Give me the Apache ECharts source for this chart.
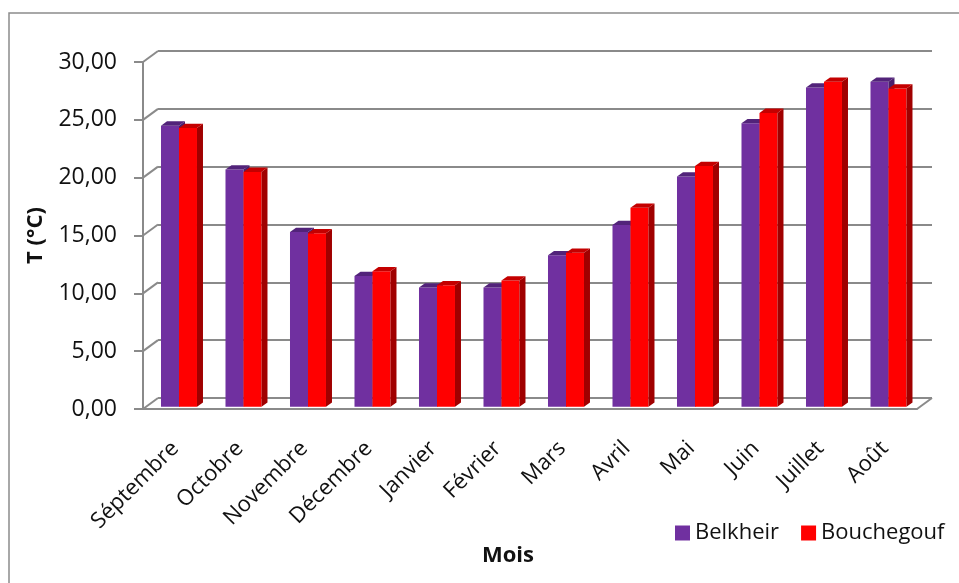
<!DOCTYPE html>
<html>
<head>
<meta charset="utf-8">
<script src="https://cdn.jsdelivr.net/npm/echarts@6/dist/echarts.min.js"></script>
<style>
  html, body { margin: 0; padding: 0; background: #fff; }
  #main { width: 959px; height: 583px; }
</style>
</head>
<body>
<div id="main"></div>
<script>
// mois et températures moyennes (°C)
var mois = ['Séptembre', 'Octobre', 'Novembre', 'Décembre', 'Janvier', 'Février',
	'Mars', 'Avril', 'Mai', 'Juin', 'Juillet', 'Août'];
var belkheir = [24.3, 20.5, 15.1, 11.3, 10.3, 10.3, 13.1, 15.7, 19.9, 24.5, 27.6, 28.1];
var bouchegouf = [24.1, 20.3, 15.0, 11.7, 10.5, 10.9, 13.3, 17.2, 20.8, 25.4, 28.1, 27.5];
var yTicks = [0, 5, 10, 15, 20, 25, 30];

// faux 3D : décalage du mur du fond
var DX = 15, DY = -11;
var front = { left: 143, right: 42, top: 62, bottom: 174 };
var gridColor = '#8a8a8a';
var font = "'Open Sans', 'Liberation Sans', sans-serif";

var chart = echarts.init(document.getElementById('main'));

function toPairs(arr) {
	return arr.map(function (v, i) { return [i, v]; });
}

function barRender(slot, face, side, top) {
	return function (params, api) {
		var idx = api.value(0), v = api.value(1);
		var catW = api.size([1, 0])[0];
		var w = catW * 0.279;
		var p = api.coord([idx, v]);
		var b = api.coord([idx, 0]);
		var x0 = p[0] + catW * (-0.221 + slot * 0.279);
		var x1 = x0 + w;
		var yt = p[1] - 2.3, yb = b[1] - 2.3;
		var sx = 6, sy = -4.3;
		return {
			type: 'group',
			children: [
				{ type: 'rect', shape: { x: x0, y: yt, width: w, height: yb - yt }, style: { fill: face } },
				{ type: 'polygon', shape: { points: [[x1, yt], [x1 + sx, yt + sy], [x1 + sx, yb + sy], [x1, yb]] }, style: { fill: side } },
				{ type: 'polygon', shape: { points: [[x0, yt], [x0 + sx, yt + sy], [x1 + sx, yt + sy], [x1, yt]] }, style: { fill: top } }
			]
		};
	};
}

var option = {
	backgroundColor: '#fff',
	animation: false,
	textStyle: { fontFamily: font },
	graphic: [{
		type: 'rect',
		shape: { x: 9, y: 13, width: 1200, height: 1000 },
		style: { fill: 'none', stroke: '#8c8c8c', lineWidth: 1.5 },
		silent: true
	}],
	legend: {
		left: 670,
		top: 517,
		itemWidth: 15,
		itemHeight: 15,
		itemGap: 22,
		icon: 'rect',
		textStyle: { fontSize: 22, color: '#111', fontFamily: font },
		data: ['Belkheir', 'Bouchegouf']
	},
	grid: [
		// mur du fond (quadrillage)
		{ left: front.left + DX, right: front.right - DX, top: front.top + DY, bottom: front.bottom - DY },
		// plan avant (axes + barres)
		{ left: front.left, right: front.right, top: front.top, bottom: front.bottom }
	],
	xAxis: [
		{ gridIndex: 0, type: 'category', data: mois, show: false },
		{
			gridIndex: 1,
			type: 'category',
			data: mois,
			name: 'Mois',
			nameLocation: 'middle',
			nameGap: 136,
			nameTextStyle: { fontSize: 22, fontWeight: 'bold', color: '#111', padding: [0, 44, 0, 0] },
			axisLine: { lineStyle: { color: gridColor, width: 2 } },
			axisTick: { length: 8, lineStyle: { color: gridColor, width: 2 } },
			axisLabel: { rotate: 45, margin: 36, fontSize: 22, color: '#111', interval: 0 },
			splitLine: { show: false }
		}
	],
	yAxis: [
		{
			gridIndex: 0, type: 'value', min: 0, max: 30, interval: 5,
			axisLine: { show: false }, axisTick: { show: false }, axisLabel: { show: false },
			splitLine: { show: true, showMinLine: true, showMaxLine: true, lineStyle: { color: gridColor, width: 2 } }
		},
		{
			gridIndex: 1, type: 'value', min: 0, max: 30, interval: 5,
			name: 'T (°C)',
			nameLocation: 'middle',
			nameRotate: 90,
			nameGap: 96,
			nameTextStyle: { fontSize: 22, fontWeight: 'bold', color: '#111' },
			axisLine: { show: true, lineStyle: { color: gridColor, width: 2 } },
			axisTick: { show: true, length: 9, lineStyle: { color: gridColor, width: 2 } },
			axisLabel: {
				margin: 26, fontSize: 23, color: '#111',
				formatter: function (v) { return v.toFixed(2).replace('.', ','); }
			},
			splitLine: { show: false }
		}
	],
	series: [
		{
			// diagonales entre l'axe avant et le mur du fond
			type: 'custom',
			xAxisIndex: 1,
			yAxisIndex: 1,
			silent: true,
			clip: false,
			data: yTicks.map(function (t) { return [0, t]; }),
			renderItem: function (params, api) {
				var cs = params.coordSys;
				var y = api.coord([0, api.value(1)])[1];
				var kids = [{
					type: 'line',
					shape: { x1: cs.x, y1: y, x2: cs.x + DX, y2: y + DY },
					style: { stroke: gridColor, lineWidth: 2 }
				}];
				if (api.value(1) === 0) {
					kids.push({
						type: 'line',
						shape: { x1: cs.x + cs.width, y1: y, x2: cs.x + cs.width + DX, y2: y + DY },
						style: { stroke: gridColor, lineWidth: 2 }
					});
				}
				return { type: 'group', children: kids };
			}
		},
		{
			name: 'Belkheir',
			type: 'custom',
			xAxisIndex: 1,
			yAxisIndex: 1,
			clip: false,
			itemStyle: { color: '#7030A0' },
			data: toPairs(belkheir),
			renderItem: barRender(0, '#7030A0', '#4a1f6c', '#52237a')
		},
		{
			name: 'Bouchegouf',
			type: 'custom',
			xAxisIndex: 1,
			yAxisIndex: 1,
			clip: false,
			itemStyle: { color: '#FF0000' },
			data: toPairs(bouchegouf),
			renderItem: barRender(1, '#FF0000', '#a00000', '#c40000')
		}
	]
};

chart.setOption(option);
</script>
</body>
</html>
